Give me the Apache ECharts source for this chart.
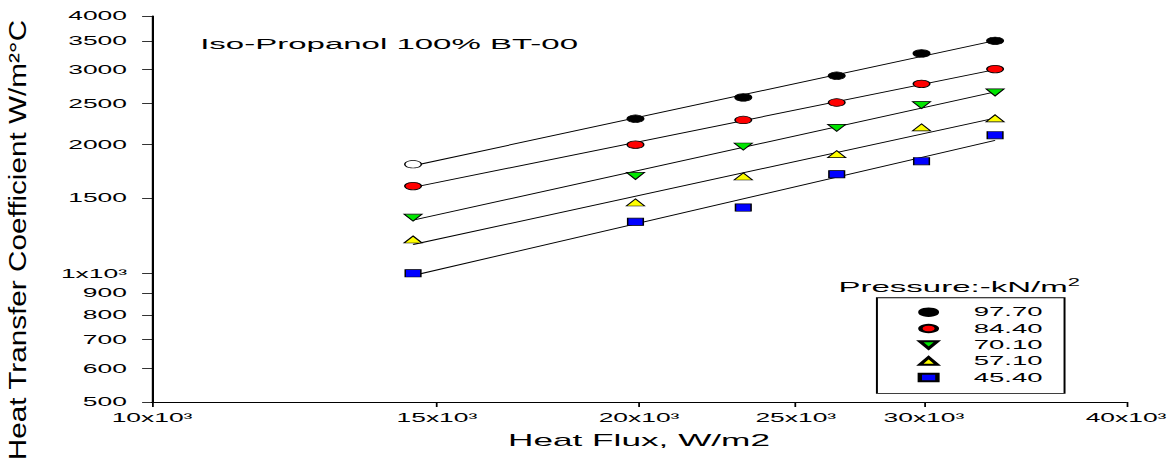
<!DOCTYPE html>
<html>
<head>
<meta charset="utf-8">
<script src="https://cdn.jsdelivr.net/npm/echarts@6/dist/echarts.min.js"></script>
<style>
  html, body { margin: 0; padding: 0; background: #fff; overflow: hidden; }
  /* the plot is laid out narrow and stretched sideways, like the wide export it copies */
  #chart { width: 534.545px; height: 462px; transform: scaleX(2.2); transform-origin: 0 0; }
</style>
</head>
<body>
<div id="chart"></div>
<script>
// Heat flux, W/m2 (shared by every run)
const heatFlux = [14500, 19900, 23200, 26500, 29900, 33200];

// Pressure of each run, kN/m2
const pressures = ['97.70', '84.40', '70.10', '57.10', '45.40'];

// Heat transfer coefficient, W/m2 C, one array per pressure
const htc_97_70 = [1800, 2300, 2580, 2900, 3270, 3500];
const htc_84_40 = [1600, 2000, 2285, 2510, 2775, 3005];
const htc_70_10 = [1350, 1690, 1980, 2190, 2475, 2650];
const htc_57_10 = [1200, 1465, 1685, 1900, 2195, 2305];
const htc_45_40 = [1000, 1320, 1425, 1705, 1830, 2105];

// Axis ticks
const xTicks = [10000, 15000, 20000, 25000, 30000, 40000];
const yTicks = [500, 600, 700, 800, 900, 1000, 1500, 2000, 2500, 3000, 3500, 4000];

const runs = [htc_97_70, htc_84_40, htc_70_10, htc_57_10, htc_45_40];

const FONT = '"Liberation Sans", Arial, Helvetica, sans-serif';

// point-down triangle as a path, so the legend shows it the same way
const TRI_DOWN = 'path://M0,0 L10,0 L5,9 Z';

// marker look per pressure
const looks = [
  { color: '#000000', symbol: 'circle',   size: 7.5 },
  { color: '#ff0000', symbol: 'circle',   size: 7.5 },
  { color: '#00e600', symbol: TRI_DOWN,   size: [8.2, 7] },
  { color: '#ffff00', symbol: 'triangle', size: [8.2, 7] },
  { color: '#0000ff', symbol: 'rect',     size: [7.1, 7.3] }
];

// least-squares power law h = a * q^n (straight line on log-log axes)
function powerFit(xs, ys) {
  const lx = xs.map(Math.log10), ly = ys.map(Math.log10);
  const n = lx.length;
  const mx = lx.reduce((s, v) => s + v, 0) / n;
  const my = ly.reduce((s, v) => s + v, 0) / n;
  let sxy = 0, sxx = 0;
  for (let i = 0; i < n; i++) { sxy += (lx[i] - mx) * (ly[i] - my); sxx += (lx[i] - mx) * (lx[i] - mx); }
  const b = sxy / sxx, a = my - b * mx;
  return q => Math.pow(10, a + b * Math.log10(q));
}

const qMin = Math.min(...heatFlux), qMax = Math.max(...heatFlux);

const series = [];
runs.forEach((ys, k) => {
  const f = powerFit(heatFlux, ys);
  series.push({
    name: pressures[k] + ' fit',
    type: 'line',
    data: [[qMin, f(qMin)], [qMax, f(qMax)]],
    symbol: 'none',
    silent: true,
    z: 1,
    lineStyle: { color: '#000', width: 0.9 }
  });
});
runs.forEach((ys, k) => {
  const lk = looks[k];
  series.push({
    name: pressures[k],
    type: 'scatter',
    data: heatFlux.map((q, i) => {
      // the first 97.70 reading is plotted as an open circle
      if (k === 0 && i === 0) return { value: [q, ys[i]], itemStyle: { color: '#ffffff' } };
      return [q, ys[i]];
    }),
    symbol: lk.symbol,
    symbolSize: lk.size,
    symbolKeepAspect: false,
    z: 3,
    itemStyle: { color: lk.color, borderColor: '#000', borderWidth: 0.7, opacity: 1 }
  });
});

const chart = echarts.init(document.getElementById('chart'), null, { renderer: 'svg' });
chart.setOption({
  animation: false,
  backgroundColor: '#fff',
  grid: { left: 69.09, right: 23.18, top: 16, bottom: 60, containLabel: false },
  xAxis: {
    type: 'log', logBase: 10, min: 10000, max: 40000,
    name: 'Heat Flux, W/m2', nameLocation: 'middle', nameGap: 30,
    nameTextStyle: { fontFamily: FONT, fontSize: 16, color: '#000' },
    axisLine: { show: true, onZero: false, lineStyle: { color: '#000', width: 1.1 } },
    axisTick: { show: true, inside: false, length: 5, customValues: xTicks, lineStyle: { color: '#000', width: 0.8 } },
    axisLabel: {
      customValues: xTicks, margin: 9.5, color: '#000', fontFamily: FONT, fontSize: 12,
      formatter: v => Math.round(v / 1000) + 'x10³'
    },
    splitLine: { show: false }, minorTick: { show: false }
  },
  yAxis: {
    type: 'log', logBase: 10, min: 500, max: 4000,
    axisLine: { show: true, onZero: false, lineStyle: { color: '#000', width: 1 } },
    axisTick: { show: true, inside: false, length: 4.5, customValues: yTicks, lineStyle: { color: '#000', width: 0.8 } },
    axisLabel: {
      customValues: yTicks, margin: 11.4, color: '#000', fontFamily: FONT, fontSize: 12,
      formatter: v => (Math.round(v) === 1000 ? '1x10³' : String(Math.round(v)))
    },
    splitLine: { show: false }, minorTick: { show: false }
  },
  legend: {
    data: pressures,
    orient: 'vertical',
    left: 398.6, top: 297.7,
    padding: [7.5, 10, 9, 18.5],
    itemWidth: 8, itemHeight: 7.5, itemGap: 2.3,
    selectedMode: false,
    borderColor: '#000', borderWidth: 0.9, borderRadius: 0,
    textStyle: { fontFamily: FONT, fontSize: 12.5, color: '#000', lineHeight: 14, padding: [0, 0, 0, 11.5] }
  },
  graphic: [
    {
      type: 'text', x: 91, y: 44, silent: true,
      style: { text: 'Iso-Propanol 100% BT-00', font: '15px ' + FONT, fill: '#000', align: 'left', verticalAlign: 'middle' }
    },
    {
      type: 'text', x: 436, y: 287, silent: true,
      style: {
        text: '{b|Pressure:-kN/m}{s|2}', fill: '#000', align: 'center', verticalAlign: 'middle',
        rich: {
          b: { fontFamily: FONT, fontSize: 15, fill: '#000', lineHeight: 18 },
          s: { fontFamily: FONT, fontSize: 10, fill: '#000', lineHeight: 18, padding: [0, 0, 9, 0] }
        }
      }
    },
    {
      type: 'text', x: 7.8, y: 240, rotation: Math.PI / 2, scaleX: 2.7, silent: true,
      style: { text: 'Heat Transfer Coefficient W/m²°C', font: '11px ' + FONT, fill: '#000', align: 'center', verticalAlign: 'middle' }
    }
  ],
  series: series
});
</script>
</body>
</html>
